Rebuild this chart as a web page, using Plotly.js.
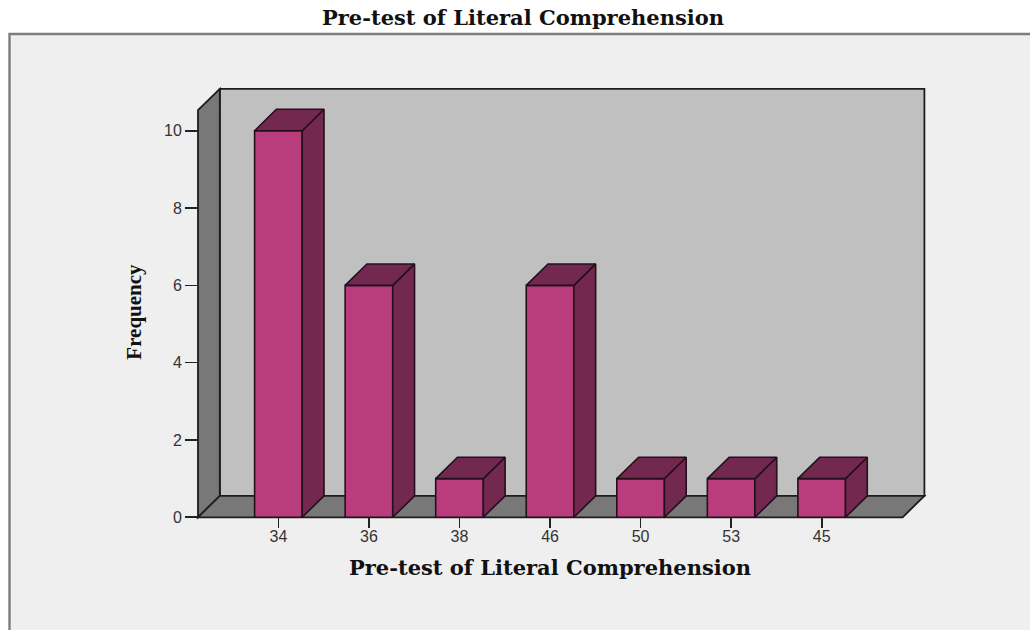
<!DOCTYPE html>
<html>
<head>
<meta charset="utf-8">
<script src="https://cdn.plot.ly/plotly-3.0.1.min.js"></script>
<style>html,body{margin:0;padding:0;background:#fff;overflow:hidden}</style>
</head>
<body>
<div id="chart" style="width:1030px;height:630px"></div>
<script>
// Frequency table for the pre-test scores, in the order they are charted
const scoreLabels = ['34', '36', '38', '46', '50', '53', '45'];
const frequencies = [10, 6, 1, 6, 1, 1, 1];
const yTickValues = [0, 2, 4, 6, 8, 10];

// Plot frame in pixels and the pixel scale of each axis
const W = 1030, H = 630;
const frame = {left: 170, right: 930, top: 84, bottom: 540};
const firstBarPx = 278.4, barStepPx = 90.55, zeroPx = 517.3, unitPx = 38.66;
const barWidth = 47.6 / barStepPx;
const depthX = 21.8 / barStepPx, depthY = 21.4 / unitPx;   // oblique depth of the 3-D box

const xRange = [(frame.left - firstBarPx) / barStepPx, (frame.right - firstBarPx) / barStepPx];
const yRange = [(zeroPx - frame.bottom) / unitPx, (zeroPx - frame.top) / unitPx];
const xLeft = (198 - firstBarPx) / barStepPx, xRight = (902.6 - firstBarPx) / barStepPx;
const yTop = (zeroPx - 110.2) / unitPx;
const paperX = px => (px - frame.left) / (frame.right - frame.left);
const paperY = py => (frame.bottom - py) / (frame.bottom - frame.top);

const positions = scoreLabels.map((_, i) => i);
const EDGE = '#24101c';

// Top and right faces of each bar, derived from its frequency
const topX = [], topY = [], sideX = [], sideY = [];
positions.forEach((p, i) => {
  const l = p - barWidth / 2, r = p + barWidth / 2, v = frequencies[i];
  topX.push(l, r, r + depthX, l + depthX, l, null);
  topY.push(v, v, v + depthY, v + depthY, v, null);
  sideX.push(r, r + depthX, r + depthX, r, r, null);
  sideY.push(0, depthY, v + depthY, v, 0, null);
});
const face = (x, y) => ({
  type: 'scatter', mode: 'lines', x, y, fill: 'toself', fillcolor: '#72284f',
  line: {color: EDGE, width: 1.6}, hoverinfo: 'skip', showlegend: false, cliponaxis: false
});

const traces = [
  {
    type: 'bar', x: positions, y: frequencies, width: barWidth,
    marker: {color: '#b93d7c', line: {color: EDGE, width: 1.6}},
    showlegend: false, cliponaxis: false
  },
  face(sideX, sideY),
  face(topX, topY)
];

// Panel behind the chart, then the back wall, left wall and floor of the box
const wallLine = {color: '#1c1c1c', width: 1.8};
const poly = pts => 'M' + pts.map(p => p.join(',')).join(' L') + ' Z';
const shapes = [
  {type: 'rect', layer: 'below', xref: 'paper', yref: 'paper',
   x0: paperX(9.5), x1: paperX(W + 6), y0: paperY(H + 6), y1: paperY(34),
   fillcolor: '#efefef', line: {color: '#7d7d7d', width: 2.4}},
  {type: 'path', layer: 'below', xref: 'x', yref: 'y', fillcolor: '#c0c0c0', line: wallLine,
   path: poly([[xLeft + depthX, depthY], [xRight + depthX, depthY], [xRight + depthX, yTop + depthY], [xLeft + depthX, yTop + depthY]])},
  {type: 'path', layer: 'below', xref: 'x', yref: 'y', fillcolor: '#787878', line: wallLine,
   path: poly([[xLeft, 0], [xLeft + depthX, depthY], [xLeft + depthX, yTop + depthY], [xLeft, yTop]])},
  {type: 'path', layer: 'below', xref: 'x', yref: 'y', fillcolor: '#787878', line: wallLine,
   path: poly([[xLeft, 0], [xRight, 0], [xRight + depthX, depthY], [xLeft + depthX, depthY]])}
];

const serifTitle = {family: '"DejaVu Serif", serif', size: 21, color: '#111', weight: 700};
const tickFont = {family: '"Liberation Sans", Arial, sans-serif', size: 16, color: '#333'};

const layout = {
  width: W, height: H,
  margin: {l: frame.left, r: W - frame.right, t: frame.top, b: H - frame.bottom, pad: 0},
  paper_bgcolor: '#ffffff',
  plot_bgcolor: 'rgba(0,0,0,0)',
  showlegend: false,
  title: {text: 'Pre-test of Literal Comprehension', xref: 'container', yref: 'container',
          x: 523 / W, xanchor: 'center', y: 1 - 18 / H, yanchor: 'middle', font: serifTitle},
  xaxis: {
    range: xRange, anchor: 'free', position: paperY(zeroPx),
    tickmode: 'array', tickvals: positions, ticktext: scoreLabels,
    ticks: 'outside', ticklen: 10, tickwidth: 1.6, tickcolor: '#222', ticklabelstandoff: -6,
    tickfont: tickFont,
    showgrid: false, zeroline: false, showline: false,
    title: {text: 'Pre-test of Literal Comprehension', font: serifTitle, standoff: 16}
  },
  yaxis: {
    range: yRange, anchor: 'free', position: paperX(198),
    tickmode: 'array', tickvals: yTickValues,
    ticks: 'outside', ticklen: 13, tickwidth: 1.6, tickcolor: '#222',
    tickfont: tickFont,
    showgrid: false, zeroline: false, showline: false,
    title: {text: 'Frequency', font: {family: '"Liberation Serif", serif', size: 21, color: '#111', weight: 700}, standoff: 15}
  },
  shapes
};

Plotly.newPlot('chart', traces, layout, {displayModeBar: false, staticPlot: true});
</script>
</body>
</html>
